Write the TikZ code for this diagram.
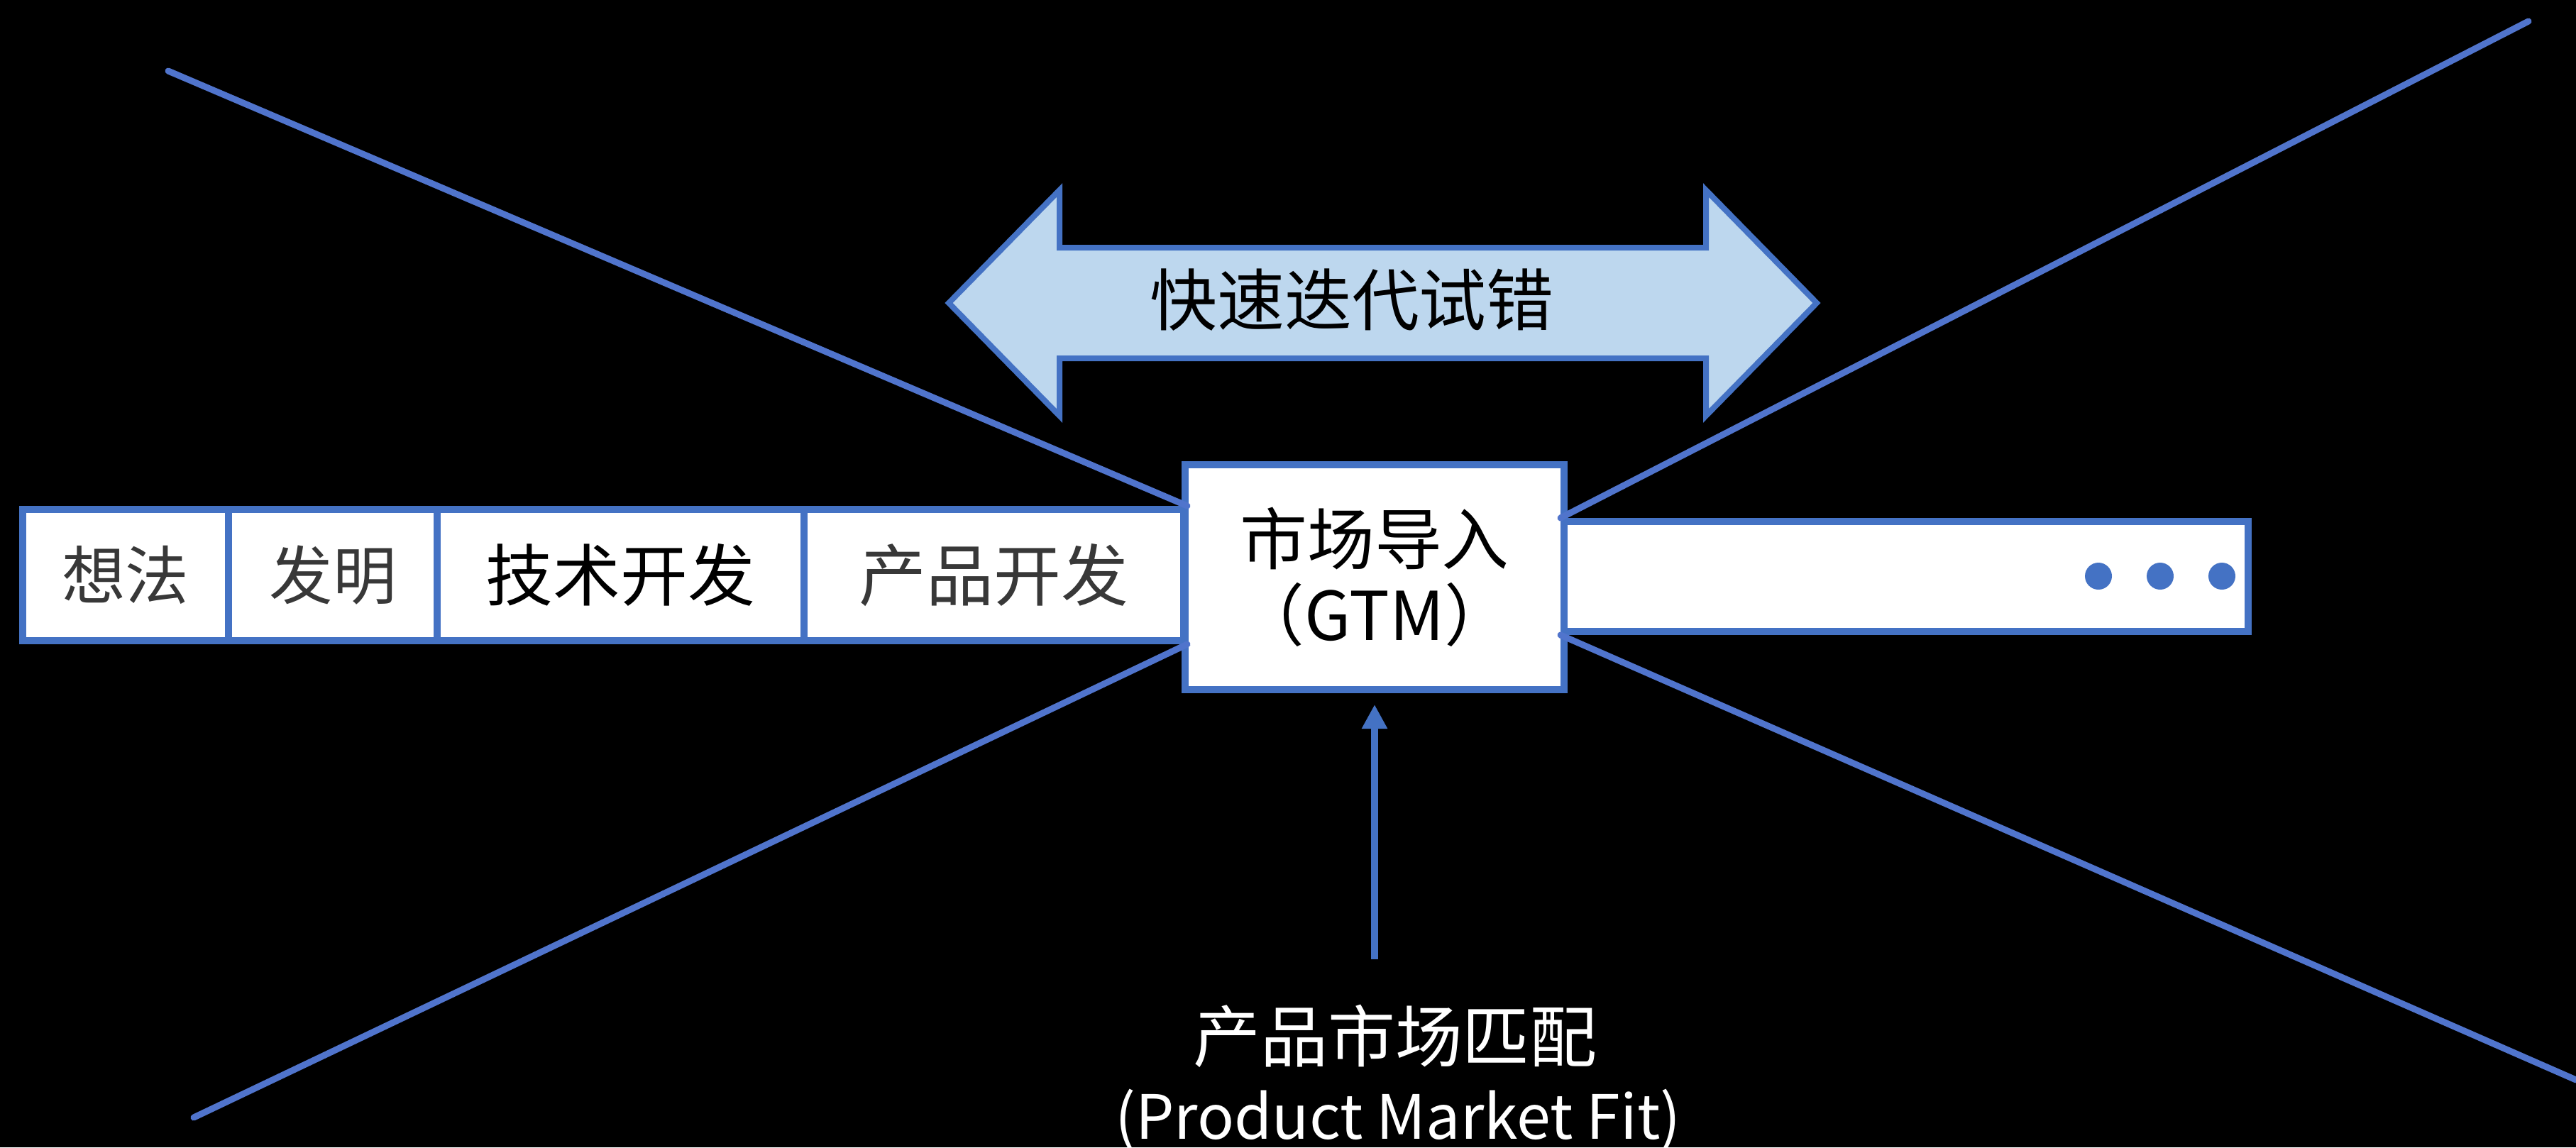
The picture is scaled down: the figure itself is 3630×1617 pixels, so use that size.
\documentclass[tikz,border=0pt]{standalone}
\usepackage{fontspec}
\setmainfont{Noto Sans CJK SC}
\usetikzlibrary{arrows.meta}
\definecolor{lineblue}{RGB}{80,116,204}
\definecolor{boxblue}{RGB}{68,114,196}
\definecolor{iterfill}{RGB}{189,215,238}

\begin{document}
\begin{tikzpicture}
[x=0.1mm, y=-0.1mm,
 stage/.style={rectangle,draw=boxblue,fill=white,line width=1mm,inner sep=0pt,minimum height=18.5mm,font=\fontsize{27}{30}\selectfont},
 lightstage/.style={stage,text=black!78,font=\fontsize{25.5}{30}\selectfont},
 cross/.style={draw=lineblue,line width=0.9mm,line cap=round},
 iterarrow/.style={draw=boxblue,fill=iterfill,line width=0.8mm},
 fitarrow/.style={draw=boxblue,line width=1mm,-{Triangle[width=3.4mm,length=3.4mm]},shorten >=1.6mm},
 label/.style={anchor=base,text=white,font=\fontsize{27}{30}\selectfont}]

\useasboundingbox (0,0) rectangle (3630,1617);
\fill[black] (0,0) rectangle (3630,1617);

% stages along the bar
\node (idea)   at ( 177,810.5) [lightstage,minimum width=29mm] {想法};
\node (invent) at ( 469,810.5) [lightstage,minimum width=29.4mm] {发明};
\node (tech)   at ( 874.5,810.5) [stage,minimum width=51.7mm] {技术开发};
\node (prod)   at (1400.5,810.5) [lightstage,minimum width=53.5mm,font=\fontsize{27}{30}\selectfont] {产品开发};
\node (gtm)    at (1937,813.5) [stage,minimum width=53.4mm,minimum height=31.7mm,align=center,font=\fontsize{27}{30.5}\selectfont] {市场导入\\（GTM）};
\node (rest)   at (2686,812.5) [stage,minimum width=96.4mm,minimum height=15.5mm] {};

\foreach \x in {2957,3044,3131}
	\fill[boxblue] (\x,812) circle (1.9mm);

% iteration arrow
\draw[iterarrow] (1337,427) -- (1493,268) -- (1493,349) -- (2404,349) -- (2404,268) -- (2560,427)
	-- (2404,586) -- (2404,505) -- (1493,505) -- (1493,586) -- cycle;
\node (iter) at (1905,423) [font=\fontsize{27}{30}\selectfont] {快速迭代试错};

% product market fit
\node (pmf)   at (1966,1496) [label] {产品市场匹配};
\node (pmfen) at (1970,1605) [label,font=\fontsize{24.5}{28}\selectfont] {(Product Market Fit)};
\coordinate (pmftail) at (1937,1352);
\draw[fitarrow] (pmftail) -- (gtm.south);

% the cross
\coordinate (tl) at ( 237,100);
\coordinate (tr) at (3563,30);
\coordinate (bl) at ( 273,1575);
\coordinate (br) at (3630,1522);
\foreach \from/\to in {tl/prod.north east, bl/prod.south east, tr/rest.north west, br/rest.south west}
	\draw[cross] (\from) -- (\to);

\end{tikzpicture}
\end{document}
